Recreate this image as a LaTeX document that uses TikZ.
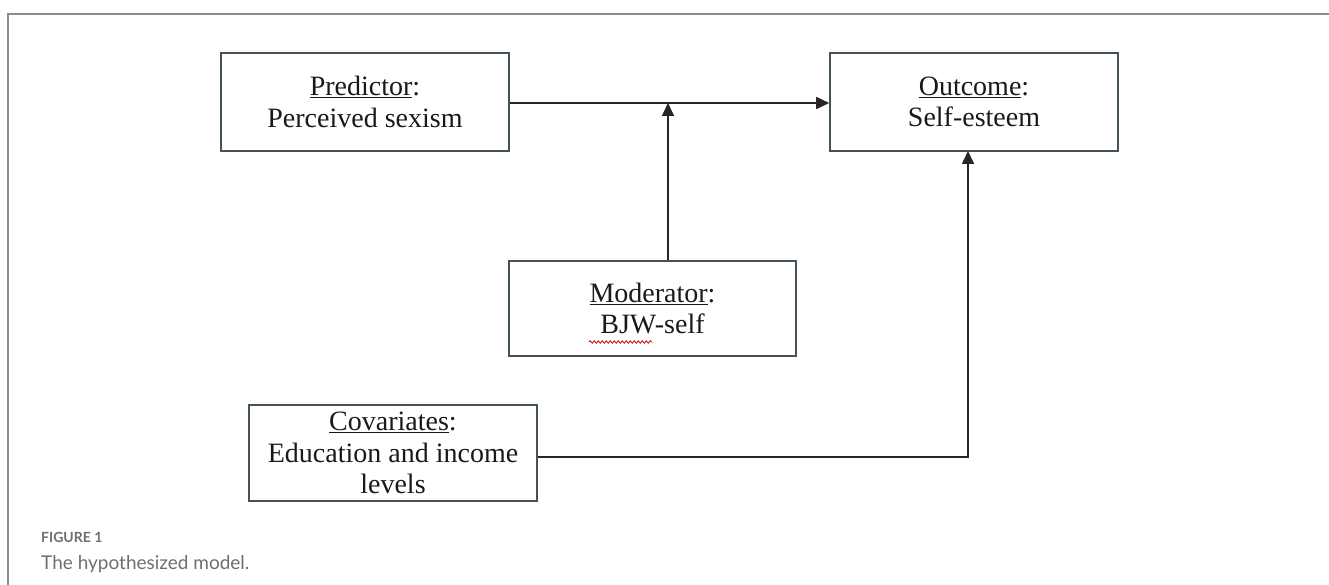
\documentclass[tikz,border=0pt]{standalone}
\usepackage{fontspec}
\setmainfont{Liberation Serif}
\newfontfamily\capfont{Lato}
\usetikzlibrary{arrows.meta,decorations.pathmorphing}
\definecolor{boxline}{HTML}{44525C}
\definecolor{framegray}{HTML}{8C8C8C}
\definecolor{capgray}{HTML}{6E6E6E}
\tikzset{
  varbox/.style={draw=boxline, line width=1.6pt, rectangle, minimum width=288pt,
    align=center, font=\fontsize{28}{31.5}\selectfont, text=black!90, inner sep=0pt},
  link/.style={line width=1.6pt, draw=black!85, -{Triangle[length=13pt,width=12pt]}},
}
\begin{document}
\begin{tikzpicture}[x=1pt,y=-1pt]
\useasboundingbox (0,0) rectangle (1329,585);
\draw[framegray, line width=1.6pt] (8,585) -- (8,14) -- (1329,14);
\node[varbox, minimum height=98pt] (pred) at (365,102) {\underline{Predictor}:\\Perceived sexism};
\node[varbox, minimum height=98pt] (outc) at (974,102) {\underline{Outcome}:\\Self-esteem};
\node[varbox, minimum width=287pt, minimum height=95pt] (mod) at (652.5,308.5) {\underline{Moderator}:\\BJW-self};
\node[varbox, minimum height=96pt] (cov) at (393,453) {\underline{Covariates}:\\Education and income\\levels};
\coordinate (j) at (668,103);
\coordinate (k) at (968,151);
\draw[link] (pred.east |- j) -- (j -| outc.west);
\draw[link] (mod.north -| j) -- (j);
\draw[link] (cov.east |- 0,457) -| (k);
\draw[red!80!black, line width=0.8pt, decorate, decoration={snake, amplitude=1.2pt, segment length=4pt}] (589,342) -- (652,342);
\node[anchor=base west, inner sep=0pt, text=capgray, font=\capfont\bfseries\fontsize{14}{16}\selectfont] (figlab) at (41,542) {FIGURE 1};
\node[anchor=base west, inner sep=0pt, text=capgray, font=\capfont\fontsize{19}{22}\selectfont] (figcap) at (41,569) {The hypothesized model.};
\end{tikzpicture}
\end{document}
